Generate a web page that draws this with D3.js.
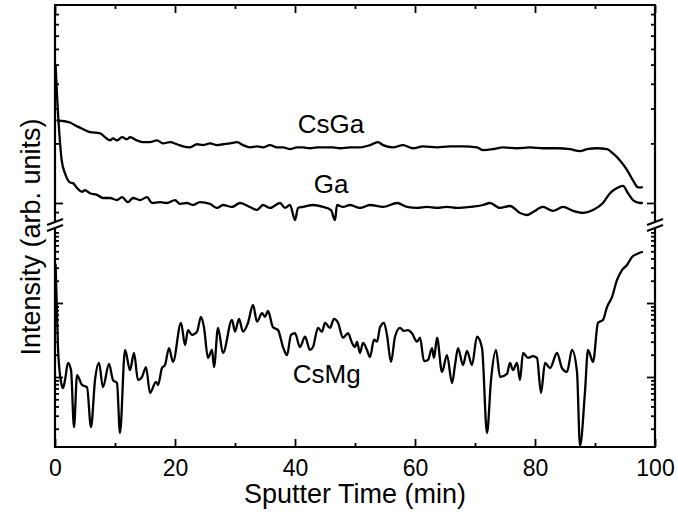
<!DOCTYPE html>
<html>
<head>
<meta charset="utf-8">
<script src="https://cdn.jsdelivr.net/npm/d3@7"></script>
<style>
  html, body { margin: 0; padding: 0; background: #fff; }
  svg text { font-family: "Liberation Sans", Arial, Helvetica, sans-serif; fill: #000; }
</style>
</head>
<body>
<svg id="chart" width="678" height="514"></svg>
<script>
// ---------------- data ----------------
const xTicksMajor = [0, 20, 40, 60, 80, 100];
const xTicksMinor = [10, 30, 50, 70, 90];
const upperMinorTicks = [0.9, 2, 3, 4, 5, 6, 7, 8, 9];
const upperMajorTicks = [1];
const lowerMinorTicks = [2, 3, 4, 5, 6, 7, 8, 9, 20, 30, 40, 50, 60, 70, 80, 90, 200, 300, 400, 500, 600, 700, 800, 900];
const lowerMajorTicks = [10, 100];

const seriesNames = ["CsGa", "Ga", "CsMg"];

const csgaTime = [0.4, 2.5, 3.33, 4.45, 5.83, 7.5, 8.33, 9.17, 9.67, 10.33, 11.17, 12.0, 12.5, 13.67, 14.67, 15.83, 17.0, 18.0, 19.17, 20.33, 21.33, 22.5, 23.67, 24.67, 25.83, 27.0, 28.0, 29.17, 30.33, 31.33, 32.5, 33.67, 34.67, 35.83, 37.0, 38.0, 39.17, 40.33, 41.33, 42.5, 43.67, 44.67, 46.33, 47.5, 49.17, 50.83, 52.5, 53.83, 54.67, 56.33, 58.0, 59.67, 61.33, 63.67, 65.83, 68.0, 70.33, 71.33, 73.0, 74.67, 77.0, 79.17, 81.33, 83.67, 85.83, 87.5, 88.67, 90.33, 92.0, 93.0, 94.17, 95.33, 96.33, 97.17, 97.83];
const csgaValue = [2.61, 2.55, 2.47, 2.38, 2.28, 2.25, 2.15, 2.07, 2.12, 2.07, 2.15, 2.10, 2.15, 2.07, 2.03, 2.03, 2.07, 2.00, 2.03, 1.98, 1.93, 1.91, 1.98, 1.96, 2.00, 1.96, 1.98, 2.00, 2.03, 1.96, 1.91, 1.93, 1.91, 1.96, 1.91, 1.91, 1.87, 1.91, 1.91, 1.89, 1.91, 1.91, 1.91, 1.89, 1.91, 1.91, 1.96, 2.03, 1.96, 1.91, 1.96, 1.89, 1.93, 1.91, 1.93, 1.93, 1.91, 1.85, 1.87, 1.91, 1.89, 1.91, 1.89, 1.89, 1.87, 1.83, 1.87, 1.89, 1.87, 1.78, 1.64, 1.47, 1.30, 1.20, 1.20];

const gaTime = [0.1, 0.38, 0.72, 1.12, 1.67, 2.5, 3.0, 3.67, 4.5, 5.0, 5.83, 7.0, 8.0, 9.17, 10.33, 11.17, 12.17, 13.0, 14.17, 15.33, 16.17, 17.5, 18.67, 20.0, 20.83, 22.0, 23.0, 24.17, 25.83, 27.0, 28.0, 29.5, 30.83, 32.5, 33.67, 34.67, 35.83, 37.5, 38.33, 39.17, 40.0, 40.5, 41.33, 43.0, 44.67, 46.0, 46.67, 47.0, 48.0, 49.17, 50.83, 52.5, 54.67, 57.0, 58.67, 60.33, 62.0, 63.67, 65.33, 67.0, 69.17, 71.33, 72.5, 74.17, 75.83, 77.5, 78.67, 79.67, 81.33, 83.0, 84.67, 86.33, 88.0, 89.67, 91.33, 92.5, 93.67, 94.67, 95.5, 96.33, 97.5, 97.83];
const gaValue = [4.94, 3.29, 2.25, 1.64, 1.41, 1.27, 1.26, 1.19, 1.14, 1.16, 1.12, 1.10, 1.06, 1.06, 1.035, 1.07, 1.01, 1.06, 1.035, 1.07, 1.0, 1.01, 1.0, 1.035, 0.99, 1.0, 0.977, 1.01, 0.99, 0.944, 0.977, 0.955, 1.0, 0.955, 0.922, 0.977, 0.944, 1.0, 0.944, 0.977, 0.82, 0.944, 0.955, 0.977, 0.955, 0.92, 0.82, 0.977, 0.955, 0.977, 0.944, 0.977, 0.955, 1.0, 0.955, 0.944, 0.955, 0.944, 0.955, 0.944, 0.955, 0.977, 1.0, 0.944, 0.966, 0.891, 0.87, 0.90, 0.955, 0.912, 0.955, 0.912, 0.891, 0.922, 1.0, 1.12, 1.19, 1.22, 1.12, 1.035, 1.0, 1.0];

const csmgTime = [0.1, 0.5, 0.95, 1.33, 1.67, 2.17, 2.67, 3.17, 3.67, 4.5, 5.33, 6.0, 6.67, 7.33, 8.0, 9.0, 9.67, 10.33, 10.83, 11.67, 12.5, 13.17, 13.83, 14.5, 15.17, 15.83, 16.83, 17.17, 17.83, 18.33, 19.0, 19.67, 21.0, 21.67, 22.17, 22.83, 23.67, 24.33, 24.83, 25.5, 26.17, 26.5, 27.17, 28.0, 29.5, 30.0, 30.67, 31.33, 32.17, 33.0, 33.67, 34.5, 35.0, 35.5, 36.33, 37.17, 38.0, 38.67, 39.33, 40.0, 40.83, 41.67, 42.5, 43.0, 43.83, 44.5, 45.0, 45.83, 46.5, 47.17, 48.0, 48.83, 49.5, 50.0, 50.33, 50.83, 51.33, 52.0, 52.5, 53.17, 53.67, 54.17, 54.83, 55.33, 56.0, 56.67, 57.5, 58.17, 58.83, 59.5, 60.33, 60.83, 61.5, 62.17, 62.83, 63.17, 63.67, 64.5, 65.33, 66.17, 66.67, 67.17, 68.0, 68.67, 69.5, 70.33, 71.17, 72.0, 72.67, 73.5, 74.17, 75.33, 75.83, 76.33, 77.0, 77.5, 78.0, 78.83, 79.67, 80.33, 81.0, 81.67, 82.5, 83.67, 84.5, 85.33, 86.17, 87.0, 87.5, 88.33, 88.83, 89.67, 90.5, 91.33, 92.0, 92.83, 93.67, 94.5, 95.33, 96.17, 97.0, 97.83];
const csmgValue = [330, 25, 9.1, 7.1, 9.1, 15.5, 12.4, 2.1, 10.6, 7.8, 7.3, 2.1, 9.1, 15.5, 7.3, 15.0, 9.1, 8.3, 1.75, 23.2, 12.4, 21.1, 9.1, 10, 13.6, 6.1, 8.6, 7.8, 13.2, 14.5, 24.6, 16.0, 54, 27, 43, 37, 41, 65, 47, 18.1, 23.2, 13.6, 46, 21.1, 59, 41, 61, 41, 54, 94, 56, 73, 65, 78, 47, 43, 25.4, 19.8, 37, 39, 25.4, 35, 23.2, 25.4, 46, 41, 54, 46, 61, 54, 34, 39, 29, 25.4, 30, 21.1, 29, 23.2, 18.6, 32, 30, 47, 54, 37, 16.0, 35, 46, 42, 43, 39, 30, 34, 16.4, 17.0, 24.6, 18.1, 34, 11.7, 19.8, 8.3, 14.5, 24.6, 14.5, 22.5, 14.5, 35, 24.6, 1.75, 9.1, 23.2, 10, 11.0, 15.5, 12.4, 15.5, 9.1, 21.1, 18.1, 19.2, 18.1, 6.1, 15.5, 13.2, 21.1, 13.2, 11.7, 23.2, 11.7, 1.17, 6.3, 23.2, 16.0, 54, 59, 88, 120, 205, 279, 326, 419, 460, 489];

(function () {
// ---------------- layout ----------------
const svg = d3.select("#chart");
const mLeft = 55, mRight = 655, mTop = 5, mBottom = 447;
const breakTop = 222, breakBot = 228;

const x = d3.scaleLinear().domain([0, 100]).range([mLeft, mRight]);
const yUpper = d3.scaleLog().domain([1, 10]).range([203, mTop]);
const yLower = d3.scaleLog().domain([10, 100]).range([377, 303]);

const zipSeries = (t, v) => t.map((d, i) => ({ t: d, v: v[i] }));
const data = {
  CsGa: zipSeries(csgaTime, csgaValue),
  Ga: zipSeries(gaTime, gaValue),
  CsMg: zipSeries(csmgTime, csmgValue)
};

// ---------------- axes ----------------
const axisG = svg.append("g");
function styleAxis(g) {
  g.select(".domain").remove();
  g.selectAll(".tick line").attr("stroke", "#000").attr("stroke-width", 1.8);
}
axisG.append("g").attr("transform", `translate(0,${mBottom})`)
  .call(d3.axisBottom(x).tickValues(xTicksMajor).tickSizeInner(-8).tickSizeOuter(0).tickPadding(13).tickFormat(d3.format("d")))
  .call(g => { styleAxis(g); g.selectAll("text").attr("font-size", 23).attr("font-family", "Liberation Sans, Arial, sans-serif").attr("fill", "#000"); });
axisG.append("g").attr("transform", `translate(0,${mBottom})`)
  .call(d3.axisBottom(x).tickValues(xTicksMinor).tickSizeInner(-4).tickSizeOuter(0).tickFormat(""))
  .call(styleAxis);
axisG.append("g").attr("transform", `translate(0,${mTop})`)
  .call(d3.axisTop(x).tickValues(xTicksMajor).tickSizeInner(-8).tickSizeOuter(0).tickFormat(""))
  .call(styleAxis);
axisG.append("g").attr("transform", `translate(0,${mTop})`)
  .call(d3.axisTop(x).tickValues(xTicksMinor).tickSizeInner(-4).tickSizeOuter(0).tickFormat(""))
  .call(styleAxis);

function yAxes(scale, minor, major) {
  [[mLeft, d3.axisLeft], [mRight, d3.axisRight]].forEach(([xp, fn]) => {
    axisG.append("g").attr("transform", `translate(${xp},0)`)
      .call(fn(scale).tickValues(minor).tickSizeInner(-4).tickSizeOuter(0).tickFormat(""))
      .call(styleAxis);
    axisG.append("g").attr("transform", `translate(${xp},0)`)
      .call(fn(scale).tickValues(major).tickSizeInner(-8).tickSizeOuter(0).tickFormat(""))
      .call(styleAxis);
  });
}
yAxes(yUpper, upperMinorTicks, upperMajorTicks);
yAxes(yLower, lowerMinorTicks, lowerMajorTicks);

// frame
const frame = svg.append("g").attr("stroke", "#000").attr("stroke-width", 2.2).attr("fill", "none");
frame.append("line").attr("x1", mLeft - 1).attr("x2", mRight + 1).attr("y1", mTop).attr("y2", mTop);
frame.append("line").attr("x1", mLeft - 1).attr("x2", mRight + 1).attr("y1", mBottom).attr("y2", mBottom);
[mLeft, mRight].forEach(xp => {
  frame.append("line").attr("x1", xp).attr("x2", xp).attr("y1", mTop).attr("y2", breakTop);
  frame.append("line").attr("x1", xp).attr("x2", xp).attr("y1", breakBot).attr("y2", mBottom);
  [breakTop, breakBot].forEach(yb => {
    frame.append("line").attr("x1", xp - 8).attr("x2", xp + 8)
      .attr("y1", yb + 3).attr("y2", yb - 3);
  });
});

// ---------------- lines ----------------
const lineUpper = d3.line().curve(d3.curveMonotoneX).x(d => x(d.t)).y(d => yUpper(d.v));
const lineLower = d3.line().curve(d3.curveMonotoneX).x(d => x(d.t)).y(d => yLower(d.v));
const lines = svg.append("g").attr("fill", "none").attr("stroke", "#000")
  .attr("stroke-width", 2.3).attr("stroke-linejoin", "round").attr("stroke-linecap", "round");
lines.append("path").attr("d", lineUpper(data.CsGa));
lines.append("path").attr("d", lineUpper(data.Ga));
lines.append("path").attr("d", lineLower(data.CsMg));

// ---------------- labels ----------------
const labels = svg.append("g").attr("font-size", 26).attr("text-anchor", "middle");
labels.append("text").attr("x", x(46)).attr("y", 133).text(seriesNames[0]);
labels.append("text").attr("x", x(46)).attr("y", 193).text(seriesNames[1]);
labels.append("text").attr("x", x(45.3)).attr("y", 383).text(seriesNames[2]);

svg.append("text").attr("x", x(50)).attr("y", 503).attr("text-anchor", "middle")
  .attr("font-size", 27).text("Sputter Time (min)");
svg.append("text").attr("transform", "translate(40,237) rotate(-90)")
  .attr("text-anchor", "middle").attr("font-size", 27).text("Intensity (arb. units)");
})();
</script>
</body>
</html>
